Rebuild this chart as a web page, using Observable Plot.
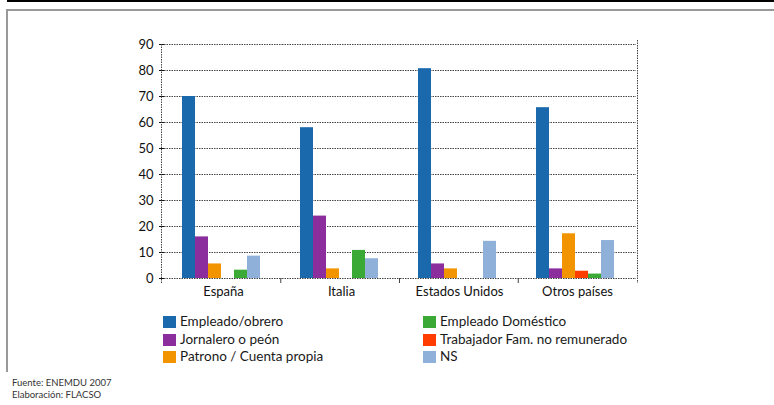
<!DOCTYPE html>
<html>
<head>
<meta charset="utf-8">
<script src="https://cdn.jsdelivr.net/npm/d3@7"></script>
<script src="https://cdn.jsdelivr.net/npm/@observablehq/plot@0.6"></script>
<style>
  html, body { margin: 0; padding: 0; background: #fff; }
  #page { position: relative; width: 774px; height: 405px; overflow: hidden; font-family: Lato, "Open Sans", sans-serif; }
  #topbar { position: absolute; left: 7px; top: 0; width: 767px; height: 2px; background: #000; }
  #topline { position: absolute; left: 6px; top: 9px; width: 768px; height: 2px; background: #999; }
  #leftline { position: absolute; left: 6px; top: 9px; width: 2px; height: 363px; background: #999; }
  #chart { position: absolute; left: 0; top: 0; }
  #legend { position: absolute; left: 0; top: 0; width: 774px; height: 405px; pointer-events: none; }
  .item { position: absolute; font-size: 13.5px; color: #1a1a1a; white-space: nowrap; line-height: 14px; }
  .sw { display: inline-block; width: 13px; height: 12px; vertical-align: -2px; margin-right: 4px; }
  #footer { position: absolute; left: 12px; top: 377px; font-size: 9.5px; line-height: 12px; color: #333; }
</style>
</head>
<body>
<div id="page">
  <div id="topbar"></div>
  <div id="topline"></div>
  <div id="leftline"></div>
  <div id="chart"></div>
  <div id="legend"></div>
  <div id="footer">Fuente: ENEMDU 2007<br>Elaboración: FLACSO</div>
</div>
<script>
const countries = ["España", "Italia", "Estados Unidos", "Otros países"];
const series = ["Empleado/obrero", "Jornalero o peón", "Patrono / Cuenta propia", "Trabajador Fam. no remunerado", "Empleado Doméstico", "NS"];
const colors = ["#1b69ad", "#8c2d9e", "#f29400", "#ff3d00", "#3aa935", "#8fb0d8"];
// values per series, in country order
const empleadoObrero = [70, 58, 80.7, 65.7];
const jornalero = [16, 24, 5.6, 3.7];
const patrono = [5.6, 3.7, 3.7, 17.2];
const trabajadorFam = [0, 0, 0, 2.8];
const empleadoDomestico = [3.2, 10.8, 0, 1.7];
const ns = [8.6, 7.6, 14.3, 14.6];
const yTicks = [0, 10, 20, 30, 40, 50, 60, 70, 80, 90];
const legendOrder = [
  ["Empleado/obrero", "Jornalero o peón", "Patrono / Cuenta propia"],
  ["Empleado Doméstico", "Trabajador Fam. no remunerado", "NS"]
];

const valuesBySeries = [empleadoObrero, jornalero, patrono, trabajadorFam, empleadoDomestico, ns];
const rows = [];
countries.forEach((c, ci) => series.forEach((s, si) => rows.push({country: c, series: s, value: valuesBySeries[si][ci]})));

const chart = Plot.plot({
  width: 774,
  height: 305,
  marginTop: 44,
  marginBottom: 27,
  marginLeft: 162,
  marginRight: 137,
  style: {fontFamily: "Lato, 'Open Sans', sans-serif", fontSize: "13px", color: "#111", background: "transparent"},
  facet: {data: rows, x: "country"},
  fx: {domain: countries, padding: 0, label: null, tickSize: 0, tickPadding: 8},
  x: {domain: series, padding: 0, paddingInner: 0, paddingOuter: 1.24, align: 0.46, axis: null},
  y: {domain: [0, 90], ticks: yTicks, tickSize: 5, tickPadding: 6, label: null},
  color: {domain: series, range: colors},
  marks: [
    Plot.ruleY(yTicks, {stroke: "#444", strokeWidth: 1, strokeDasharray: "1.5,1"}),
    Plot.barY(rows, {x: "series", y: "value", fill: "series", inset: 0})
  ]
});
document.getElementById("chart").appendChild(chart);

// Axis lines and group boundary ticks, positioned through the plot's own scales
const fxS = chart.scale("fx");
const yS = chart.scale("y");
const fxScale = d3.scaleBand(fxS.domain, fxS.range).paddingInner(0).paddingOuter(0);
const yScale = d3.scaleLinear(yS.domain, yS.range);
const svg = d3.select(chart);
const g = svg.append("g").attr("stroke", "#444").attr("stroke-width", 1);
const x0 = fxScale.range()[0], x1 = fxScale.range()[1];
const yTop = yScale(90), yBase = yScale(0);
g.append("line").attr("x1", x0 - 0.5).attr("x2", x0 - 0.5).attr("y1", yTop).attr("y2", yBase + 5).attr("stroke-dasharray", "1.5,1");
g.append("line").attr("x1", x1 + 0.5).attr("x2", x1 + 0.5).attr("y1", yTop - 4).attr("y2", yBase + 5).attr("stroke-dasharray", "1.5,1");
countries.slice(1).forEach(c => {
  const xb = fxScale(c);
  g.append("line").attr("x1", xb).attr("x2", xb).attr("y1", yBase).attr("y2", yBase + 5);
});

// Legend
const legend = document.getElementById("legend");
const colX = [163, 423];
const rowY = [314, 331.5, 349];
legendOrder.forEach((col, ci) => col.forEach((name, ri) => {
  const d = document.createElement("div");
  d.className = "item";
  d.style.left = colX[ci] + "px";
  d.style.top = rowY[ri] + "px";
  const sw = document.createElement("span");
  sw.className = "sw";
  sw.style.background = colors[series.indexOf(name)];
  d.appendChild(sw);
  d.appendChild(document.createTextNode(name));
  legend.appendChild(d);
}));
</script>
</body>
</html>
